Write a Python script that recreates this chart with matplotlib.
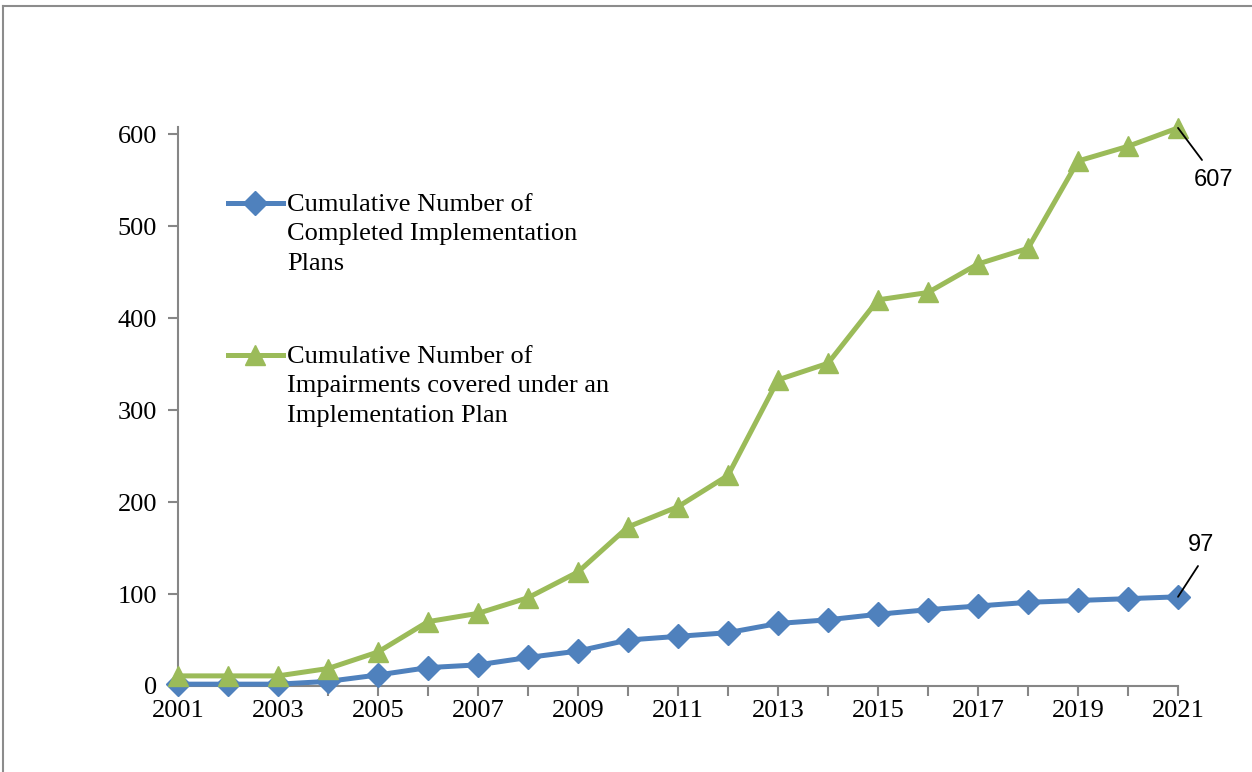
import numpy as np
import matplotlib.pyplot as plt
from matplotlib.lines import Line2D

years = list(range(2001, 2022))
plans = [2, 2, 2, 5, 12, 20, 23, 31, 38, 50, 54, 58, 68, 72, 78, 83, 87, 91, 93, 95, 97]
impairments = [11, 11, 11, 19, 37, 70, 79, 96, 124, 173, 195, 229, 333, 351, 420, 428, 459, 476, 571, 587, 607]
plans_label = "Cumulative Number of\nCompleted Implementation\nPlans"
imp_label = "Cumulative Number of\nImpairments covered under an\nImplementation Plan"

BLUE = '#4F81BD'
GREEN = '#9BBB59'
AXC = '#868686'

plt.rcParams['font.family'] = ['Liberation Serif', 'DejaVu Serif']

fig = plt.figure(figsize=(12.52, 7.72), dpi=100)
ax = fig.add_axes([178 / 1252, 1 - 686 / 772, 1000 / 1252, 559 / 772])

ax.plot(years, plans, color=BLUE, lw=3.6, marker='D', markersize=12, clip_on=False, zorder=3)
ax.plot(years, impairments, color=GREEN, lw=3.6, marker='^', markersize=15, clip_on=False, zorder=3)

ax.set_xlim(2001, 2021)
ax.set_ylim(0, 608)
ax.set_yticks([0, 100, 200, 300, 400, 500, 600])
ax.set_xticks(years)
ax.set_xticklabels([str(y) if (y - 2001) % 2 == 0 else '' for y in years])

for s in ['top', 'right']:
    ax.spines[s].set_visible(False)
for s in ['left', 'bottom']:
    ax.spines[s].set_color(AXC)
    ax.spines[s].set_linewidth(1.5)
ax.tick_params(axis='both', colors=AXC, labelcolor='black', labelsize=19, length=7, width=1.5)
ax.tick_params(axis='y', pad=8)
ax.tick_params(axis='x', pad=3)

# legend drawn by hand so the marker sits on the first text line
for y, col, mk, ms, lab in [(0.864, BLUE, 'D', 12, plans_label), (0.592, GREEN, '^', 15, imp_label)]:
    ax.add_line(Line2D([0.05, 0.105], [y, y], transform=ax.transAxes, color=col, lw=3.6, clip_on=False))
    ax.add_line(Line2D([0.077], [y], transform=ax.transAxes, color=col, marker=mk, markersize=ms, clip_on=False))
    ax.text(0.109, y + 0.017, lab, transform=ax.transAxes, fontsize=19, va='top', ha='left', linespacing=1.45)

# end labels with leader lines
for val, tx, ty, lx, ly in [(impairments[-1], 1214, 180, 1202, 160), (plans[-1], 1201, 545, 1198, 566)]:
    ax.annotate('', xy=(years[-1], val), xytext=(lx / 1252, 1 - ly / 772),
                textcoords=fig.transFigure,
                arrowprops=dict(arrowstyle='-', color='black', lw=1.3, shrinkA=0, shrinkB=0),
                annotation_clip=False)
    fig.text(tx / 1252, 1 - ty / 772, str(val), fontsize=17, family='Liberation Sans',
             ha='center', va='center')

# outer frame (top and left edges visible)
fig.add_artist(Line2D([3 / 1252, 1], [1 - 6 / 772, 1 - 6 / 772], transform=fig.transFigure, color='#8c8c8c', lw=1.5))
fig.add_artist(Line2D([3 / 1252, 3 / 1252], [0, 1 - 6 / 772], transform=fig.transFigure, color='#8c8c8c', lw=1.5))

fig.savefig('out.png', dpi=100)
